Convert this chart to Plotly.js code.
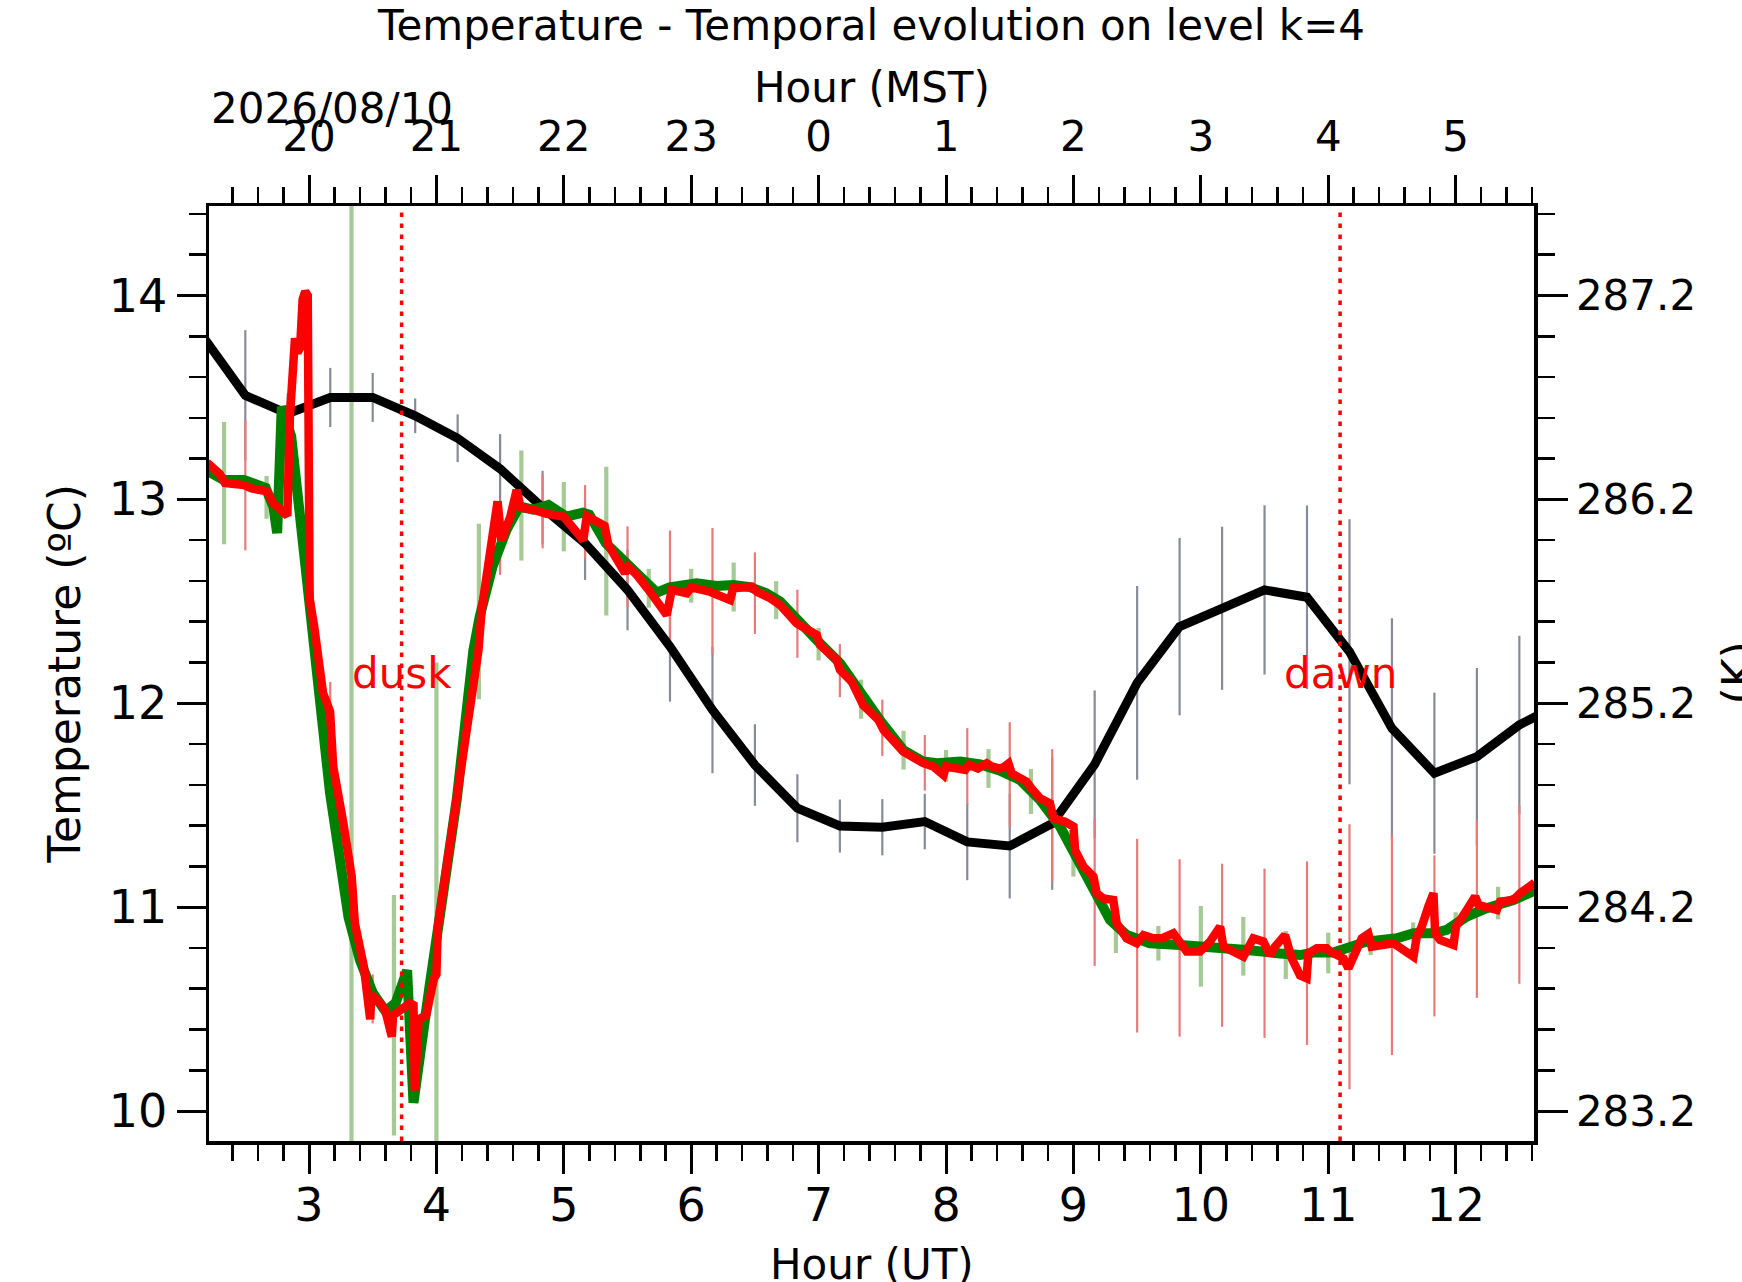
<!DOCTYPE html>
<html>
<head>
<meta charset="utf-8">
<script src="https://cdn.plot.ly/plotly-3.0.1.min.js"></script>
<style>
  html, body { margin: 0; padding: 0; background: #fff; }
  #plot { width: 1742px; height: 1282px; }
</style>
</head>
<body>
<div id="plot"></div>
<script>
// 20-minute model values (black) and their spread, shared with the red bars
const blackT = [2.1667, 2.5, 2.8333, 3.1667, 3.5, 3.8333, 4.1667, 4.5, 4.8333, 5.1667,
  5.5, 5.8333, 6.1667, 6.5, 6.8333, 7.1667, 7.5, 7.8333, 8.1667, 8.5,
  8.8333, 9.1667, 9.5, 9.8333, 10.1667, 10.5, 10.8333, 11.1667, 11.5, 11.8333,
  12.1667, 12.5, 12.8333];
const blackC = [13.80, 13.51, 13.42, 13.50, 13.50, 13.41, 13.30, 13.15, 12.96, 12.785,
  12.556, 12.278, 11.967, 11.697, 11.485, 11.398, 11.392, 11.42, 11.32, 11.30,
  11.41, 11.70, 12.10, 12.376, 12.466, 12.556, 12.52, 12.253, 11.877, 11.657,
  11.738, 11.894, 12.0];
const barStd = [0.30, 0.32, 0.10, 0.145, 0.12, 0.085, 0.117, 0.17, 0.18, 0.18,
  0.198, 0.27, 0.31, 0.20, 0.167, 0.13, 0.138, 0.136, 0.188, 0.257,
  0.325, 0.363, 0.475, 0.435, 0.40, 0.415, 0.45, 0.65, 0.54, 0.395,
  0.435, 0.437, 0.45];
// red bar centres (observation mean at the same times)
const redBarC = [13.20, 13.07, 13.40, 11.96, 10.55, 10.30, 11.55, 12.80, 12.94, 12.89,
  12.67, 12.577, 12.55, 12.54, 12.39, 12.16, 11.88, 11.708, 11.69, 11.65,
  11.45, 11.075, 10.86, 10.80, 10.813, 10.774, 10.774, 10.757, 10.815, 10.859,
  10.99, 11.061, 11.12];

// green bars (offset by 10 min)
const greenBarT = [2.3333, 2.6667, 3.0, 3.3333, 3.6667, 4.0, 4.3333, 4.6667, 5.0, 5.3333,
  5.6667, 6.0, 6.3333, 6.6667, 7.0, 7.3333, 7.6667, 8.0, 8.3333, 8.6667,
  9.0, 9.3333, 9.6667, 10.0, 10.3333, 10.6667, 11.0, 11.3333, 11.6667, 12.0,
  12.3333];
const greenBarC = [13.08, 13.01, 12.50, 10.95, 10.47, 10.63, 12.45, 12.97, 12.915, 12.795,
  12.564, 12.576, 12.57, 12.506, 12.29, 12.02, 11.77, 11.693, 11.68, 11.567,
  11.26, 10.84, 10.823, 10.808, 10.808, 10.765, 10.775, 10.81, 10.88, 10.925,
  11.02];
const greenBarStd = [0.30, 0.105, 0.05, 4.0, 0.59, 1.57, 0.43, 0.27, 0.17, 0.365,
  0.095, 0.083, 0.12, 0.093, 0.08, 0.096, 0.095, 0.078, 0.095, 0.11,
  0.11, 0.065, 0.085, 0.198, 0.144, 0.118, 0.10, 0.045, 0.045, 0.05,
  0.08];

// green line (smoothed)
const greenT = [2.20, 2.33, 2.49, 2.66, 2.72, 2.75, 2.786, 2.86, 2.93, 3.0,
  3.07, 3.165, 3.31, 3.40, 3.50, 3.60, 3.68, 3.77, 3.82, 3.87,
  3.95, 4.03, 4.16, 4.29, 4.34, 4.44, 4.55, 4.65, 4.76, 4.88,
  5.02, 5.15, 5.20, 5.33, 5.44, 5.57, 5.73, 5.83, 6.043, 6.20,
  6.33, 6.46, 6.59, 6.697, 6.828, 6.985, 7.168, 7.325, 7.48, 7.665,
  7.82, 7.93, 8.11, 8.27, 8.42, 8.581, 8.738, 8.895, 9.026, 9.157,
  9.287, 9.418, 9.601, 9.837, 10.099, 10.36, 10.622, 10.779, 10.883, 11.04,
  11.302, 11.538, 11.669, 11.826, 11.93, 12.087, 12.244, 12.349, 12.453, 12.62];
const greenC = [13.14, 13.095, 13.095, 13.056, 12.965, 12.835, 13.455, 13.31, 12.915, 12.51,
  12.016, 11.56, 10.95, 10.74, 10.58, 10.49, 10.53, 10.69, 10.04, 10.30,
  10.63, 10.97, 11.53, 12.26, 12.425, 12.67, 12.85, 12.965, 12.95, 12.973,
  12.915, 12.935, 12.925, 12.785, 12.72, 12.654, 12.543, 12.569, 12.588, 12.575,
  12.58, 12.57, 12.54, 12.50, 12.41, 12.31, 12.196, 12.05, 11.918, 11.77,
  11.714, 11.706, 11.714, 11.70, 11.67, 11.624, 11.526, 11.395, 11.248, 11.084,
  10.937, 10.863, 10.823, 10.814, 10.806, 10.79, 10.773, 10.765, 10.777, 10.777,
  10.831, 10.847, 10.872, 10.872, 10.888, 10.954, 10.995, 11.011, 11.035, 11.08];

// red line (observations)
const redT = [2.20, 2.30, 2.34, 2.49, 2.55, 2.63, 2.67, 2.72, 2.80, 2.83,
  2.85, 2.87, 2.89, 2.91, 2.93, 2.95, 2.97, 2.99, 3.00, 3.005,
  3.04, 3.11, 3.165, 3.19, 3.27, 3.335, 3.36, 3.43, 3.48, 3.49,
  3.56, 3.60, 3.65, 3.66, 3.73, 3.79, 3.82, 3.83, 3.86, 3.92,
  3.98, 4.00, 4.01, 4.08, 4.16, 4.24, 4.33, 4.355, 4.42, 4.48,
  4.51, 4.58, 4.63, 4.66, 4.76, 4.86, 5.00, 5.153, 5.18, 5.28,
  5.32, 5.35, 5.43, 5.48, 5.506, 5.572, 5.677, 5.808, 5.847, 5.965,
  6.00, 6.147, 6.305, 6.33, 6.475, 6.515, 6.62, 6.697, 6.828, 6.906,
  6.985, 7.01, 7.142, 7.168, 7.26, 7.35, 7.47, 7.51, 7.665, 7.822,
  7.90, 7.98, 8.00, 8.15, 8.18, 8.25, 8.32, 8.36, 8.42, 8.45,
  8.49, 8.515, 8.633, 8.67, 8.738, 8.816, 8.843, 8.934, 9.00, 9.013,
  9.078, 9.157, 9.183, 9.235, 9.313, 9.34, 9.418, 9.497, 9.549, 9.627,
  9.693, 9.784, 9.837, 9.889, 9.994, 10.072, 10.151, 10.177, 10.334, 10.412,
  10.491, 10.543, 10.582, 10.661, 10.713, 10.779, 10.83, 10.844, 10.91, 10.988,
  11.014, 11.119, 11.158, 11.198, 11.263, 11.315, 11.341, 11.512, 11.603, 11.669,
  11.695, 11.734, 11.786, 11.826, 11.839, 11.878, 11.983, 12.003, 12.087, 12.153,
  12.179, 12.323, 12.349, 12.453, 12.506, 12.597, 12.62];
const redC = [13.18, 13.125, 13.08, 13.07, 13.054, 13.04, 13.04, 12.98, 12.94, 12.92,
  13.405, 13.70, 13.79, 13.72, 13.745, 13.98, 14.02, 14.00, 13.40, 12.51,
  12.38, 12.05, 11.96, 11.69, 11.41, 11.15, 10.92, 10.71, 10.45, 10.57,
  10.53, 10.49, 10.365, 10.47, 10.50, 10.53, 10.52, 10.10, 10.45, 10.47,
  10.65, 10.67, 10.90, 11.21, 11.53, 11.90, 12.26, 12.457, 12.75, 12.99,
  12.80, 12.915, 13.046, 12.96, 12.95, 12.93, 12.915, 12.80, 12.918, 12.89,
  12.87, 12.776, 12.687, 12.638, 12.67, 12.63, 12.547, 12.433, 12.556, 12.54,
  12.569, 12.547, 12.507, 12.564, 12.572, 12.547, 12.515, 12.482, 12.392, 12.36,
  12.335, 12.286, 12.212, 12.163, 12.106, 11.99, 11.918, 11.869, 11.763, 11.706,
  11.69, 11.648, 11.69, 11.673, 11.698, 11.68, 11.706, 11.69, 11.68, 11.686,
  11.705, 11.656, 11.615, 11.583, 11.534, 11.509, 11.436, 11.419, 11.395, 11.28,
  11.20, 11.15, 11.068, 11.043, 11.035, 10.92, 10.847, 10.823, 10.863, 10.847,
  10.847, 10.872, 10.831, 10.782, 10.782, 10.831, 10.904, 10.806, 10.757, 10.847,
  10.831, 10.765, 10.806, 10.863, 10.749, 10.665, 10.651, 10.774, 10.798, 10.798,
  10.782, 10.749, 10.70, 10.757, 10.847, 10.869, 10.806, 10.823, 10.782, 10.757,
  10.856, 10.905, 11.003, 11.068, 10.872, 10.839, 10.815, 10.905, 10.986, 11.052,
  11.011, 10.986, 11.027, 11.035, 11.068, 11.109, 11.12];

const utTicks = [3, 4, 5, 6, 7, 8, 9, 10, 11, 12];
const mstLabels = ['20', '21', '22', '23', '0', '1', '2', '3', '4', '5'];
const kelvinTicks = [283.15, 284.15, 285.15, 286.15, 287.15];
const kelvinLabels = ['283.2', '284.2', '285.2', '286.2', '287.2'];
const duskUT = 3.727;
const dawnUT = 11.093;

const xRange = [2.215, 12.615];
const yRange = [9.853, 14.439];
const kOffset = 273.15;

function bars(x, y, err, color, thick) {
  return {
    type: 'scatter', mode: 'markers', x: x, y: y,
    marker: { size: 1, opacity: 0 },
    error_y: { type: 'data', array: err, visible: true, color: color, thickness: thick, width: 0 },
    hoverinfo: 'skip', showlegend: false
  };
}

const traces = [
  bars(greenBarT, greenBarC, greenBarStd, '#a6ca96', 4.2),
  bars(blackT, blackC, barStd, '#878b96', 2.2),
  bars(blackT, redBarC, barStd, '#e87a7a', 2.2),
  { type: 'scatter', mode: 'lines', x: blackT, y: blackC, line: { color: 'black', width: 9 }, hoverinfo: 'skip' },
  { type: 'scatter', mode: 'lines', x: greenT, y: greenC, line: { color: '#008000', width: 10 }, hoverinfo: 'skip' },
  { type: 'scatter', mode: 'lines', x: redT, y: redC, line: { color: '#ff0000', width: 8.5 }, hoverinfo: 'skip' },
  // empty traces so that the MST (top) and Kelvin (right) axes get drawn
  { type: 'scatter', mode: 'markers', x: [], y: [], xaxis: 'x2', yaxis: 'y', hoverinfo: 'skip' },
  { type: 'scatter', mode: 'markers', x: [], y: [], xaxis: 'x', yaxis: 'y2', hoverinfo: 'skip' }
];

const axisCommon = {
  showgrid: false, zeroline: false, showline: true, linecolor: 'black', linewidth: 3.5,
  ticks: 'outside', tickcolor: 'black', tickwidth: 3, ticklen: 29,
  tickmode: 'array', fixedrange: true
};
const minorTicks = { ticks: 'outside', ticklen: 16, tickwidth: 2.5, tickcolor: 'black', showgrid: false, dtick: 0.2 };

const layout = {
  width: 1742, height: 1282,
  margin: { l: 209, r: 208, t: 206, b: 141, pad: 0 },
  paper_bgcolor: 'white', plot_bgcolor: 'white',
  showlegend: false, hovermode: false,
  font: { family: 'DejaVu Sans', color: 'black' },
  title: {
    text: 'Temperature - Temporal evolution on level k=4',
    font: { size: 42, family: 'DejaVu Sans', color: 'black' },
    x: 0.5, xanchor: 'center', y: 1 - 25 / 1282, yanchor: 'middle', xref: 'paper', yref: 'container'
  },
  xaxis: Object.assign({}, axisCommon, {
    range: xRange, tickvals: utTicks, tickfont: { size: 46 }, anchor: 'y', ticklabelstandoff: -8,
    minor: Object.assign({}, minorTicks)
  }),
  xaxis2: Object.assign({}, axisCommon, {
    range: xRange, tickvals: utTicks, ticktext: mstLabels, tickfont: { size: 42 },
    overlaying: 'x', side: 'top', anchor: 'y', ticklen: 28, ticklabelstandoff: 7,
    minor: Object.assign({}, minorTicks)
  }),
  yaxis: Object.assign({}, axisCommon, {
    range: yRange, tickvals: [10, 11, 12, 13, 14], tickfont: { size: 46 }, anchor: 'x',
    minor: Object.assign({}, minorTicks, { ticklen: 17 })
  }),
  yaxis2: Object.assign({}, axisCommon, {
    range: [yRange[0] + kOffset, yRange[1] + kOffset], tickvals: kelvinTicks, ticktext: kelvinLabels,
    tickfont: { size: 42 }, overlaying: 'y', side: 'right', anchor: 'x', ticklen: 30,
    minor: Object.assign({}, minorTicks, { ticklen: 17, tick0: 283.15 })
  }),
  shapes: [duskUT, dawnUT].map(v => ({
    type: 'line', xref: 'x', yref: 'paper', x0: v, x1: v, y0: 0, y1: 1, layer: 'above',
    line: { color: '#ff0000', width: 3.5, dash: '4.5px,6.5px' }
  })),
  annotations: [
    { text: 'dusk', x: duskUT, y: 12.144, xref: 'x', yref: 'y', showarrow: false,
      xanchor: 'center', yanchor: 'middle', font: { size: 42, color: '#ff0000' } },
    { text: 'dawn', x: dawnUT, y: 12.144, xref: 'x', yref: 'y', showarrow: false,
      xanchor: 'center', yanchor: 'middle', font: { size: 42, color: '#ff0000' } },
    { text: 'Hour (UT)', x: 0.5, y: (1141 - 1264) / 935, xref: 'paper', yref: 'paper', showarrow: false,
      xanchor: 'center', yanchor: 'middle', font: { size: 42 } },
    { text: 'Hour (MST)', x: 0.5, y: (1141 - 88) / 935, xref: 'paper', yref: 'paper', showarrow: false,
      xanchor: 'center', yanchor: 'middle', font: { size: 42 } },
    { text: '2026/08/10', x: 0, y: (1141 - 109) / 935, xref: 'paper', yref: 'paper', showarrow: false,
      xanchor: 'left', yanchor: 'middle', font: { size: 42 } },
    { text: 'Temperature (ºC)', x: (64 - 209) / 1325, y: 0.5, xref: 'paper', yref: 'paper', showarrow: false,
      xanchor: 'center', yanchor: 'middle', textangle: -90, font: { size: 44 } },
    { text: '(K)', x: (1738 - 209) / 1325, y: 0.5, xref: 'paper', yref: 'paper', showarrow: false,
      xanchor: 'center', yanchor: 'middle', textangle: -90, font: { size: 44 } }
  ]
};

Plotly.newPlot('plot', traces, layout, { displayModeBar: false, staticPlot: true });
</script>
</body>
</html>
